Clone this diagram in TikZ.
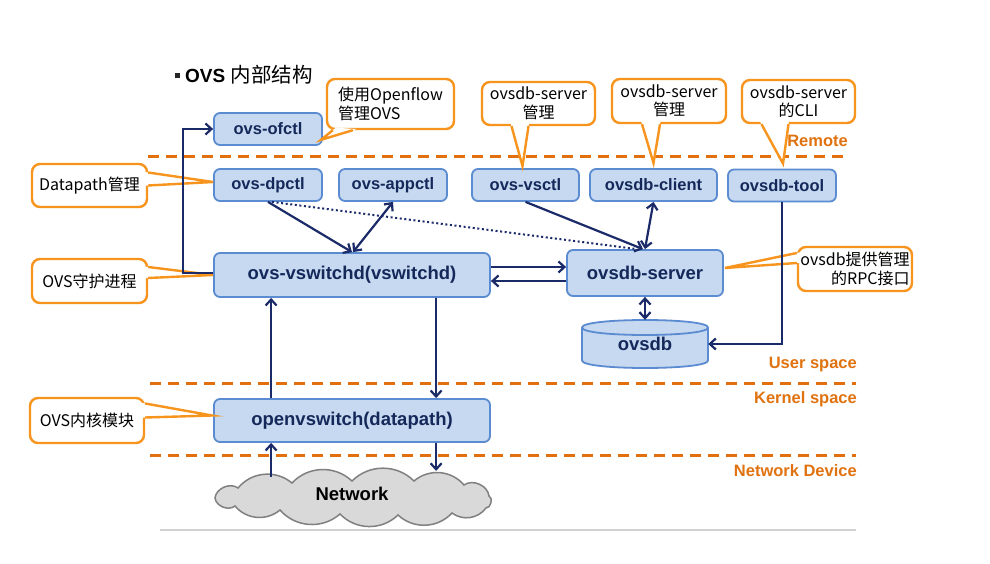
\documentclass[tikz,border=0pt]{standalone}
\usepackage{fontspec}
\setmainfont{Liberation Sans}
\newfontfamily\cjk{Noto Sans CJK SC}
\usetikzlibrary{calc,arrows.meta}
\definecolor{boxfill}{HTML}{C6D9F1}
\definecolor{boxdraw}{HTML}{5B8BD0}
\definecolor{navy}{HTML}{14285A}
\definecolor{arrowc}{HTML}{1B2A68}
\definecolor{dashor}{HTML}{E2700F}
\definecolor{labor}{HTML}{E0720F}
\definecolor{callor}{HTML}{F7941D}
\definecolor{cloudfill}{HTML}{D9D9D9}
\definecolor{clouddraw}{HTML}{808080}
\newcommand\calloutwedge[3]{%
  \fill[white] ($(#1)!-4pt!(#3)$) -- (#3) -- ($(#2)!-4pt!(#3)$) -- cycle;
  \draw[callor, line width=2.4pt, line join=miter] (#1) -- (#3) -- (#2);
}
\begin{document}
\begin{tikzpicture}[x=1pt,y=-1pt,
  >={Straight Barb[length=6pt,width=11pt]},
  comp/.style={draw=boxdraw, fill=boxfill, line width=1.8pt, rounded corners=6pt,
    text=navy, font=\bfseries\fontsize{16.5}{18}\selectfont, inner sep=0pt},
  smallcomp/.style={comp, minimum height=32pt},
  bigcomp/.style={comp, font=\bfseries\fontsize{18.5}{20}\selectfont},
  callbox/.style={draw=callor, fill=white, line width=2.4pt, rounded corners=8pt,
    font=\cjk\fontsize{16}{18.5}\selectfont, inner sep=0pt, text=black},
  conn/.style={draw=arrowc, line width=2.2pt},
  sep/.style={draw=dashor, line width=3pt, dash pattern=on 11pt off 7pt},
  zone/.style={anchor=east, text=labor, font=\bfseries\fontsize{16.5}{18}\selectfont, inner sep=0pt},
  puff/.style={bend left=45}
]
\useasboundingbox (0,0) rectangle (990,564);
\fill[white] (0,0) rectangle (990,564);

% title
\node[fill=black!85, minimum size=5pt, inner sep=0pt] (bul) at (177.5,76) {};
\node[anchor=west, inner sep=0pt, font=\fontsize{19}{21}\selectfont] (title) at (185,75)
  {\textbf{OVS} {\cjk\fontsize{20.5}{22}\selectfont 内部结构}};

% separators
\draw[sep] (148,157) -- (848,157);
\draw[sep] (150,383) -- (856,383);
\draw[sep] (150,455) -- (856,455);
\draw[line width=1.5pt, color=black!18] (160,530) -- (856,530);

% components
\node[smallcomp, minimum width=108pt] (ofctl) at (268,129) {ovs-ofctl};
\node[smallcomp, minimum width=108pt] (dpctl) at (268,185) {ovs-dpctl};
\node[smallcomp, minimum width=108pt] (appctl) at (393,185) {ovs-appctl};
\node[smallcomp, minimum width=107pt] (vsctl) at (525.5,185) {ovs-vsctl};
\node[smallcomp, minimum width=127pt] (client) at (653.5,185) {ovsdb-client};
\node[smallcomp, minimum width=108pt] (tool) at (782,185.5) {ovsdb-tool};
\node[bigcomp, minimum width=276pt, minimum height=44pt] (vswitchd) at (352,275) {ovs-vswitchd(vswitchd)};
\node[bigcomp, minimum width=156pt, minimum height=46pt] (server) at (645,273) {ovsdb-server};
\node[bigcomp, minimum width=276pt, minimum height=43pt] (datapath) at (352,420.5) {openvswitch(datapath)};

% ovsdb cylinder
\path[draw=boxdraw, fill=boxfill, line width=1.8pt]
  (582,327.5) -- (582,360.5) .. controls (582,370.5) and (708,370.5) .. (708,360.5)
  -- (708,327.5) .. controls (708,317.5) and (582,317.5) .. (582,327.5) -- cycle;
\draw[draw=boxdraw, line width=1.8pt] (582,327.5) .. controls (582,337.5) and (708,337.5) .. (708,327.5);
\node[text=navy, font=\bfseries\fontsize{18.5}{20}\selectfont, minimum width=126pt,
  minimum height=48pt, inner sep=0pt] (ovsdb) at (645,344) {\raisebox{-3pt}{ovsdb}};

% network cloud
\draw[draw=clouddraw, fill=cloudfill, line width=1.5pt]
  (215,498) to[bend left=60] (238,488) to[puff] (292,483) to[puff] (352,481)
  to[puff] (414,481) to[puff] (464,485) to[bend left=60] (489,496)
  to[bend left=80] (486,508) to[puff] (452,513) to[puff] (398,515)
  to[puff] (340,514) to[puff] (280,510) to[puff] (235,506) to[bend left=60] (215,498) -- cycle;
\node[inner sep=0pt, font=\bfseries\fontsize{18.5}{20}\selectfont] (net) at (352,494) {Network};

% callouts
\node[callbox, minimum width=127pt, minimum height=50pt, align=left] (cof) at (390.5,104) {使用Openflow\\管理OVS};
\node[callbox, minimum width=115pt, minimum height=43pt] (cdp) at (89.5,185.5) {Datapath管理};
\node[callbox, minimum width=115pt, minimum height=44pt] (cvs) at (89.5,281) {OVS守护进程};
\node[callbox, minimum width=113pt, minimum height=43pt, align=center] (cvsctl) at (538.5,103.5) {ovsdb-server\\管理};
\node[callbox, minimum width=114pt, minimum height=44pt, align=center] (cclient) at (669,101) {ovsdb-server\\管理};
\node[callbox, minimum width=113pt, minimum height=43pt, align=center] (ctool) at (798.5,101.5) {ovsdb-server\\的CLI};
\node[callbox, minimum width=114pt, minimum height=44pt, align=right] (csrv) at (855,269) {ovsdb提供管理\\的RPC接口};
\node[callbox, minimum width=114pt, minimum height=45pt] (ckern) at (87,420.5) {OVS内核模块};

% callout pointers
\coordinate (a1) at ($(cof.south west)+(7,0)$);
\coordinate (a2) at ($(cof.south west)+(27,0)$);
\coordinate (at) at ($(ofctl.south east)+(-2,-6)$);
\calloutwedge{a1}{a2}{at}
\coordinate (b1) at ($(cdp.east)+(0,-13)$);
\coordinate (b2) at ($(cdp.east)+(0,0)$);
\coordinate (bt) at ($(dpctl.west)+(0,-3)$);
\calloutwedge{b1}{b2}{bt}
\coordinate (c1) at ($(cvs.east)+(0,-14)$);
\coordinate (c2) at ($(cvs.east)+(0,-3)$);
\coordinate (ct) at ($(vswitchd.west)+(0,0)$);
\calloutwedge{c1}{c2}{ct}
\coordinate (d1) at ($(cvsctl.south)+(-27,0)$);
\coordinate (d2) at ($(cvsctl.south)+(-10,0)$);
\coordinate (dt) at ($(vsctl.north)+(-3,-2)$);
\calloutwedge{d1}{d2}{dt}
\coordinate (e1) at ($(cclient.south)+(-27,0)$);
\coordinate (e2) at ($(cclient.south)+(-9,0)$);
\coordinate (et) at ($(client.north)+(0,-5)$);
\calloutwedge{e1}{e2}{et}
\coordinate (f1) at ($(ctool.south)+(-37,0)$);
\coordinate (f2) at ($(ctool.south)+(-10,0)$);
\coordinate (ft) at ($(tool.north)+(1,-5)$);
\calloutwedge{f1}{f2}{ft}
\coordinate (g1) at ($(csrv.west)+(0,-16)$);
\coordinate (g2) at ($(csrv.west)+(0,-6)$);
\coordinate (gt) at ($(server.east)+(1,-5)$);
\calloutwedge{g1}{g2}{gt}
\coordinate (h1) at ($(ckern.east)+(0,-17)$);
\coordinate (h2) at ($(ckern.east)+(0,-3)$);
\coordinate (ht) at ($(datapath.west)+(-1,-5)$);
\calloutwedge{h1}{h2}{ht}

% zone labels
\node[zone] (lremote) at (848,141) {Remote};
\node[zone] (luser) at (857,365) {User space};
\node[zone] (lkernel) at (857,399) {Kernel space};
\node[zone] (ldev) at (857,471) {Network Device};

% connectors
\draw[conn,->] ($(vswitchd.west)+(0,-2)$) -- ++(-30,0) |- (ofctl.west);
\draw[conn,->] (dpctl.south) -- (vswitchd.north);
\draw[conn,<->] ($(vswitchd.north)+(1,0)$) -- (appctl.south);
\draw[conn, line width=2pt, dash pattern=on 2pt off 2.6pt] ($(dpctl.south)+(4,0)$) -- ($(server.north)+(-8,0)$);
\draw[conn,->] (vsctl.south) -- ($(server.north)+(-2,0)$);
\draw[conn,<->] (client.south) -- (server.north);
\coordinate (v1) at ($(vswitchd.east)+(0,-8)$);
\coordinate (v2) at ($(server.west)+(0,8)$);
\draw[conn,->] (v1) -- (v1 -| server.west);
\draw[conn,->] (v2) -- (v2 -| vswitchd.east);
\draw[conn,<->] (server.south) -- (ovsdb.north);
\draw[conn,->] (tool.south) |- (ovsdb.east);
\coordinate (p1) at ($(vswitchd.south west)+(58,0)$);
\coordinate (p2) at ($(vswitchd.south west)+(223,0)$);
\draw[conn,->] (p1 |- datapath.north) -- (p1);
\draw[conn,->] (p2) -- (p2 |- datapath.north);
\coordinate (q1) at ($(datapath.south west)+(58,0)$);
\coordinate (q2) at ($(datapath.south west)+(223,0)$);
\draw[conn,->] ($(q1)+(0,34)$) -- (q1);
\draw[conn,->] (q2) -- ($(q2)+(0,28)$);
\end{tikzpicture}
\end{document}
